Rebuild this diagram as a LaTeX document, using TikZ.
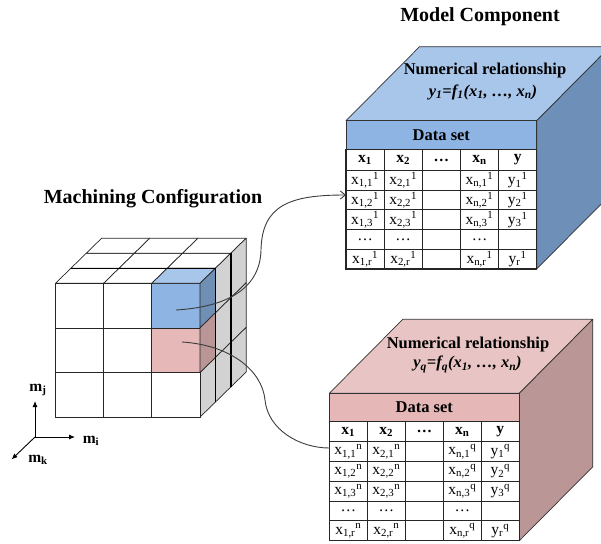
\documentclass[tikz,border=0pt]{standalone}
\usepackage{fontspec}
\setmainfont{Liberation Serif}
\usetikzlibrary{arrows.meta}
\definecolor{topblue}{RGB}{168,197,234}
\definecolor{bandblue}{RGB}{142,180,227}
\definecolor{sideblue}{RGB}{110,143,183}
\definecolor{toppink}{RGB}{233,196,196}
\definecolor{bandpink}{RGB}{229,184,183}
\definecolor{sidepink}{RGB}{186,151,150}
\definecolor{cellblue}{RGB}{142,180,227}
\definecolor{celltopblue}{RGB}{168,197,234}
\definecolor{cellsideblue}{RGB}{111,143,181}
\definecolor{cellpink}{RGB}{230,185,184}
\definecolor{cellsidepink}{RGB}{186,150,150}
\definecolor{cubegray}{RGB}{210,210,210}
\definecolor{linegray}{RGB}{60,60,60}
\tikzset{
  cubeln/.style={draw=black!85, line width=0.7pt, line join=round},
  layerln/.style={draw=black, line width=1.5pt},
  boxln/.style={draw=black!80, line width=0.7pt, line join=round},
  cellbox/.style={draw=black!85, line width=1.1pt, fill=white, inner sep=0pt, font=\fontsize{15.5}{16}\selectfont},
  bandbox/.style={draw=black!80, line width=0.7pt, inner sep=0pt, font=\bfseries\fontsize{16.5}{18}\selectfont},
  hdrtext/.style={font=\bfseries\fontsize{16.5}{18}\selectfont, inner sep=0pt},
  titletext/.style={font=\bfseries\fontsize{20}{22}\selectfont, inner sep=0pt},
  conn/.style={draw=linegray, line width=0.9pt},
  axisarrow/.style={draw=black, line width=0.9pt, -{Latex[length=6pt,width=5pt]}},
  axislbl/.style={font=\bfseries\fontsize{15.5}{16}\selectfont, inner sep=0pt},
}
\newcommand\cellnode[4]{%
  \pgfmathsetmacro\cxx{\tx+(#2-0.5)*\tw}%
  \pgfmathsetmacro\cyy{#3==0 ? \ty+\thh/2 : \ty+\thh+(#3-0.5)*\rh}%
  \pgfmathsetmacro\chh{#3==0 ? \thh : \rh}%
  \node[cellbox, minimum width=\tw pt, minimum height=\chh pt] (#1) at (\cxx,\cyy) {#4};}
\newcommand\filltable[3]{%
  \cellnode{#1h1}{1}{0}{\textbf{x\textsubscript{1}}}%
  \cellnode{#1h2}{2}{0}{\textbf{x\textsubscript{2}}}%
  \cellnode{#1h3}{3}{0}{\textbf{…}}%
  \cellnode{#1h4}{4}{0}{\textbf{x\textsubscript{n}}}%
  \cellnode{#1h5}{5}{0}{\textbf{y}}%
  \foreach \r in {1,2,3}{%
    \cellnode{#1a\r}{1}{\r}{x\textsubscript{1,\r}\textsuperscript{#2}}%
    \cellnode{#1b\r}{2}{\r}{x\textsubscript{2,\r}\textsuperscript{#2}}%
    \cellnode{#1c\r}{3}{\r}{}%
    \cellnode{#1d\r}{4}{\r}{x\textsubscript{n,\r}\textsuperscript{#3}}%
    \cellnode{#1e\r}{5}{\r}{y\textsubscript{\r}\textsuperscript{#3}}%
  }%
  \cellnode{#1a4}{1}{4}{…}%
  \cellnode{#1b4}{2}{4}{…}%
  \cellnode{#1c4}{3}{4}{}%
  \cellnode{#1d4}{4}{4}{…}%
  \cellnode{#1e4}{5}{4}{}%
  \cellnode{#1a5}{1}{5}{x\textsubscript{1,r}\textsuperscript{#2}}%
  \cellnode{#1b5}{2}{5}{x\textsubscript{2,r}\textsuperscript{#2}}%
  \cellnode{#1c5}{3}{5}{}%
  \cellnode{#1d5}{4}{5}{x\textsubscript{n,r}\textsuperscript{#3}}%
  \cellnode{#1e5}{5}{5}{y\textsubscript{r}\textsuperscript{#3}}%
}
\begin{document}
\begin{tikzpicture}[x=1pt,y=-1pt]
\useasboundingbox (0,0) rectangle (601,543);
\clip (0,0) rectangle (601,543);
% ---------- titles
\node[titletext] (t1) at (153,199) {Machining Configuration};
\node[titletext] (t2) at (480,17) {Model Component};
% ---------- cube
\def\cx{55.5}\def\cy{283.3}\def\cw{48.17}\def\ch{44.6}\def\dx{15.4}\def\ndy{15.05}
\foreach \k in {0,1,2}{\foreach \i in {0,1,2}{
  \pgfmathsetmacro\ax{\cx+\i*\cw+\k*\dx}
  \pgfmathsetmacro\ay{\cy-\k*\ndy}
  \draw[cubeln, fill=white] (\ax,\ay) -- ++(\cw,0) -- ++(\dx,-\ndy) -- ++(-\cw,0) -- cycle;
}}
\foreach \k in {0,1,2}{\foreach \j in {0,1,2}{
  \pgfmathsetmacro\ax{\cx+3*\cw+\k*\dx}
  \pgfmathsetmacro\ay{\cy+\j*\ch-\k*\ndy}
  \draw[cubeln, fill=cubegray] (\ax,\ay) -- ++(\dx,-\ndy) -- ++(0,\ch) -- ++(-\dx,\ndy) -- cycle;
}}
\foreach \i in {0,1,2}{\foreach \j in {0,1,2}{
  \draw[cubeln, fill=white] (\cx+\i*\cw,\cy+\j*\ch) rectangle ++(\cw,\ch);
}}
% highlighted cells
\draw[cubeln, fill=cellblue] (\cx+2*\cw,\cy) rectangle ++(\cw,\ch);
\draw[cubeln, fill=celltopblue] (\cx+2*\cw,\cy) -- ++(\cw,0) -- ++(\dx,-\ndy) -- ++(-\cw,0) -- cycle;
\draw[cubeln, fill=cellsideblue] (\cx+3*\cw,\cy) -- ++(\dx,-\ndy) -- ++(0,\ch) -- ++(-\dx,\ndy) -- cycle;
\draw[cubeln, fill=cellpink] (\cx+2*\cw,\cy+\ch) rectangle ++(\cw,\ch);
\draw[cubeln, fill=cellsidepink] (\cx+3*\cw,\cy+\ch) -- ++(\dx,-\ndy) -- ++(0,\ch) -- ++(-\dx,\ndy) -- cycle;
% layer separations
\draw[layerln] (\cx+\dx,\cy-\ndy) -- ++(3*\cw,0);
\draw[layerln] (\cx+3*\cw+\dx,\cy-\ndy) -- ++(0,3*\ch);
\draw[layerln] (\cx+3*\cw+2*\dx,\cy-2*\ndy) -- ++(0,3*\ch);
% ---------- axes
\coordinate (o) at (35,437);
\coordinate (ej) at (35,401);
\coordinate (ei) at (75,437);
\coordinate (ek) at (11.5,459.5);
\draw[axisarrow] (o) -- (ej);
\draw[axisarrow] (o) -- (ei);
\draw[axisarrow] (o) -- (ek);
\node[axislbl] (lj) at (38,390) {m\textsubscript{j}};
\node[axislbl] (li) at (91,441) {m\textsubscript{i}};
\node[axislbl] (lk) at (38,460) {m\textsubscript{k}};
% ---------- blue model box
\draw[boxln, fill=topblue] (346,120.7) -- (536.7,120.7) -- ++(73.5,-74) -- (419.5,46.7) -- cycle;
\draw[boxln, fill=sideblue] (536.7,120.7) -- ++(73.5,-74) -- ++(0,148.3) -- (536.7,269) -- cycle;
\node[hdrtext] (bnum) at (485,71) {Numerical relationship};
\node[hdrtext] (bfor) at (483,92) {\textit{y\textsubscript{1}=f\textsubscript{1}(x\textsubscript{1}, …, x\textsubscript{n})}};
\node[bandbox, fill=bandblue, minimum width=190.7pt, minimum height=28.8pt] (bds) at (441.35,135.1) {Data set};
\def\tx{346}\def\ty{149.5}\def\tw{38.14}\def\thh{21}\def\rh{19.7}
\filltable{B}{1}{1}
% ---------- pink model box
\draw[boxln, fill=toppink] (329.3,393.3) -- (519.3,393.3) -- (592.8,319.3) -- (402.8,319.3) -- cycle;
\draw[boxln, fill=sidepink] (519.3,393.3) -- (592.8,319.3) -- (592.8,466.7) -- (519.3,540.7) -- cycle;
\node[hdrtext] (pnum) at (468,344.3) {Numerical relationship};
\node[hdrtext] (pfor) at (467.5,364.3) {\textit{y\textsubscript{q}=f\textsubscript{q}(x\textsubscript{1}, …, x\textsubscript{n})}};
\node[bandbox, fill=bandpink, minimum width=190pt, minimum height=28.4pt] (pds) at (424.3,407.5) {Data set};
\def\tx{329.3}\def\ty{421.7}\def\tw{38}\def\thh{20}\def\rh{19.8}
\filltable{P}{n}{q}
% ---------- connectors
\coordinate (bstart) at (176,310);
\coordinate (bmid) at (261,250);
\coordinate (bend) at (346,195);
\draw[conn, -{Straight Barb[length=5pt,width=8pt]}] (bstart) .. controls (225,307) and (260,290) .. (bmid) .. controls (262,205) and (290,195) .. (bend);
\coordinate (pstart) at (182,342);
\coordinate (pmid) at (265,400);
\coordinate (pend) at (329.3,448);
\draw[conn] (pstart) .. controls (230,345) and (262,370) .. (pmid) .. controls (268,430) and (300,448) .. (pend);
\end{tikzpicture}
\end{document}
